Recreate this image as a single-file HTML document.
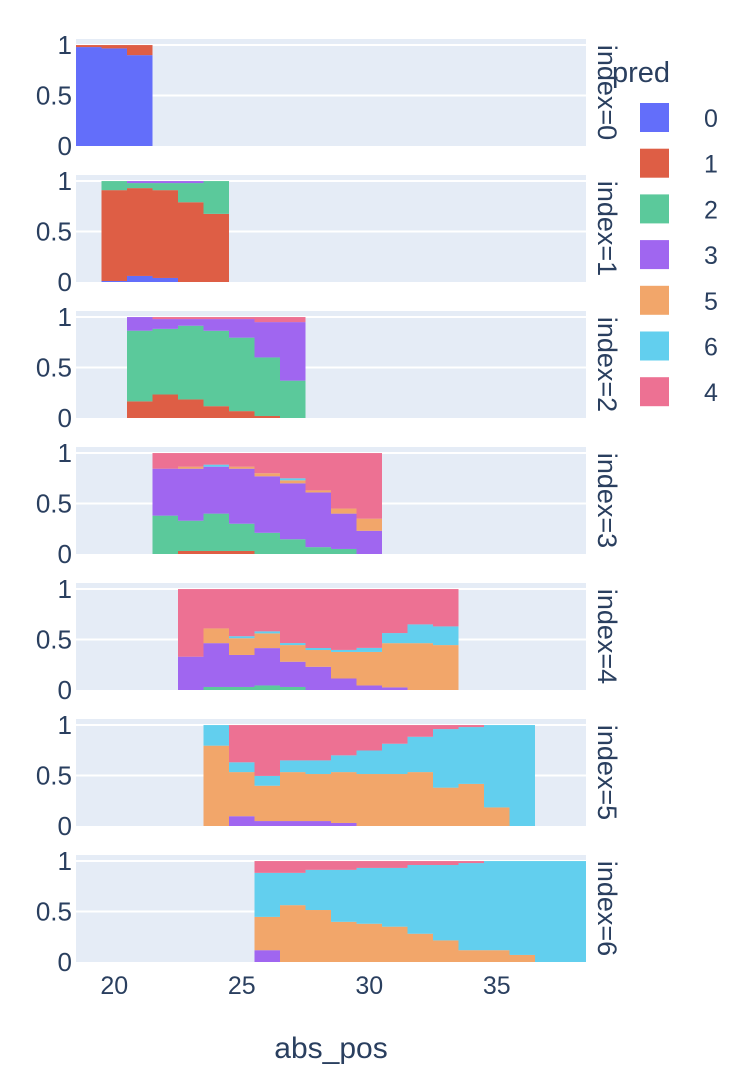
<!DOCTYPE html>
<html><head><meta charset="utf-8"><style>
body{margin:0;background:#fff}
svg{display:block;font-family:"Liberation Sans",sans-serif}
</style></head><body>
<svg id="chart" width="750" height="1074" viewBox="0 0 750 1074" xmlns="http://www.w3.org/2000/svg"></svg>
<script>
// categories (legend / stacking order)
const preds = ["0","1","2","3","5","6","4"];
const colors = ["#636efa","#de5e45","#5bc99b","#a066f0","#f2a66a","#62cfee","#ed7193"];
const facets = ["index=0","index=1","index=2","index=3","index=4","index=5","index=6"];
const xTicks = [20,25,30,35];
const yTicks = [0,0.5,1];
// first bin index per facet (bin k spans 18.5+k .. 19.5+k)
const startBin = [0,1,2,3,4,5,7];
// fractions per bin, order: 0,1,2,3,5,6,4
const facet0 = [[0.98,0.02,0,0,0,0,0],[0.967,0.033,0,0,0,0,0],[0.90,0.10,0,0,0,0,0]];
const facet1 = [[0.01,0.90,0.09,0,0,0,0],[0.06,0.87,0.05,0.02,0,0,0],[0.04,0.87,0.07,0.02,0,0,0],[0,0.79,0.19,0.02,0,0,0],[0,0.675,0.325,0,0,0,0]];
const facet2 = [[0,0.165,0.70,0.135,0,0,0],[0,0.233,0.65,0.097,0,0,0.02],[0,0.184,0.73,0.066,0,0,0.02],[0,0.117,0.747,0.116,0,0,0.02],[0,0.068,0.728,0.184,0,0,0.02],[0,0.02,0.58,0.35,0,0,0.05],[0,0,0.37,0.58,0,0,0.05]];
const facet3 = [[0,0,0.38,0.465,0,0,0.155],[0,0.03,0.30,0.515,0.02,0,0.135],[0,0.03,0.37,0.465,0,0.02,0.115],[0,0.03,0.27,0.545,0.02,0,0.135],[0,0,0.21,0.56,0.03,0,0.20],[0,0,0.146,0.554,0.03,0.02,0.25],[0,0,0.068,0.542,0.02,0,0.37],[0,0,0.05,0.35,0.05,0,0.55],[0,0,0,0.23,0.12,0,0.65]];
const facet4 = [[0,0,0,0.33,0,0,0.67],[0,0,0.03,0.434,0.146,0,0.39],[0,0,0.03,0.317,0.166,0.02,0.467],[0,0,0.045,0.37,0.146,0.02,0.419],[0,0,0.03,0.25,0.165,0.02,0.535],[0,0,0,0.23,0.166,0.02,0.584],[0,0,0,0.114,0.263,0.02,0.603],[0,0,0,0.045,0.332,0.04,0.583],[0,0,0,0.026,0.438,0.10,0.436],[0,0,0,0,0.464,0.186,0.35],[0,0,0,0,0.445,0.185,0.37]];
const facet5 = [[0,0,0,0,0.796,0.204,0],[0,0,0,0.097,0.437,0.097,0.369],[0,0,0,0.049,0.35,0.097,0.504],[0,0,0,0.049,0.485,0.116,0.35],[0,0,0,0.049,0.466,0.135,0.35],[0,0,0,0.03,0.504,0.166,0.30],[0,0,0,0,0.515,0.233,0.252],[0,0,0,0,0.515,0.30,0.185],[0,0,0,0,0.534,0.35,0.116],[0,0,0,0,0.38,0.58,0.04],[0,0,0,0,0.417,0.563,0.02],[0,0,0,0,0.184,0.816,0],[0,0,0,0,0,1,0]];
const facet6 = [[0,0,0,0.117,0.33,0.436,0.117],[0,0,0,0,0.563,0.32,0.117],[0,0,0,0,0.515,0.398,0.087],[0,0,0,0,0.398,0.515,0.087],[0,0,0,0,0.379,0.553,0.068],[0,0,0,0,0.35,0.582,0.068],[0,0,0,0,0.28,0.681,0.039],[0,0,0,0,0.214,0.747,0.039],[0,0,0,0,0.117,0.863,0.02],[0,0,0,0,0.117,0.883,0],[0,0,0,0,0.07,0.93,0],[0,0,0,0,0,1,0],[0,0,0,0,0,1,0]];
const facetData = [facet0,facet1,facet2,facet3,facet4,facet5,facet6];

const NS="http://www.w3.org/2000/svg";
const svg=document.getElementById('chart');
const X0=76,X1=586,xMin=18.5,xMax=38.5;
const xs=v=>X0+(v-xMin)/(xMax-xMin)*(X1-X0);
const panelTop=i=>39+136*i, PH=107, yMax=1.06;
const ys=(i,v)=>panelTop(i)+PH-v/yMax*PH;
function mk(tag,attrs,parent){const e=document.createElementNS(NS,tag);for(const k in attrs)e.setAttribute(k,attrs[k]);(parent||svg).appendChild(e);return e;}

for(let i=0;i<7;i++){
  const g=mk('g',{});
  
  
  const bg=mk('rect',{x:X0,y:panelTop(i),width:X1-X0,height:PH,fill:'#e5ecf6'},g);
  
  
  yTicks.forEach(t=>{
    const y=ys(i,t);
    if(t>0){const gl=mk('line',{x1:X0,x2:X1,y1:y,y2:y,stroke:'#fff','stroke-width':2},g);
      
      }
    const tl=mk('text',{x:72,y:y+9,'text-anchor':'end','font-size':26,fill:'#2a3f5f'},g);
    tl.textContent=String(t);
    
    
  });
  facetData[i].forEach((bin,j)=>{
    const k=startBin[i]+j;
    const xa=xs(xMin+k),xb=xs(xMin+k+1);
    let cum=0;
    bin.forEach((v,s)=>{
      if(v<=0)return;
      const r=mk('rect',{x:xa,y:ys(i,cum+v),width:xb-xa,height:ys(i,cum)-ys(i,cum+v),fill:colors[s]},g);
      
      
      cum+=v;
    });
  });
  const cy=panelTop(i)+PH/2;
  const fl=mk('text',{x:598,y:cy,'text-anchor':'middle','font-size':27,fill:'#2a3f5f',transform:`rotate(90 598 ${cy})`},g);
  fl.textContent=facets[i];
  
  
}
xTicks.forEach(t=>{
  const tl=mk('text',{x:xs(t),y:994,'text-anchor':'middle','font-size':25,fill:'#2a3f5f'});
  tl.textContent=String(t);
  
  
});
const xt=mk('text',{x:331,y:1058,'text-anchor':'middle','font-size':30,fill:'#2a3f5f'});
xt.textContent='abs_pos';


const lt=mk('text',{x:612,y:82,'font-size':29,fill:'#2a3f5f'});
lt.textContent='pred';


preds.forEach((p,s)=>{
  const y=103+45.7*s;
  const g=mk('g',{});
  
  
  mk('rect',{x:640,y:y,width:29,height:29,fill:colors[s]},g);
  const t=mk('text',{x:711,y:y+24,'text-anchor':'middle','font-size':25,fill:'#2a3f5f'},g);
  t.textContent=p;
});
</script>
</body></html>
